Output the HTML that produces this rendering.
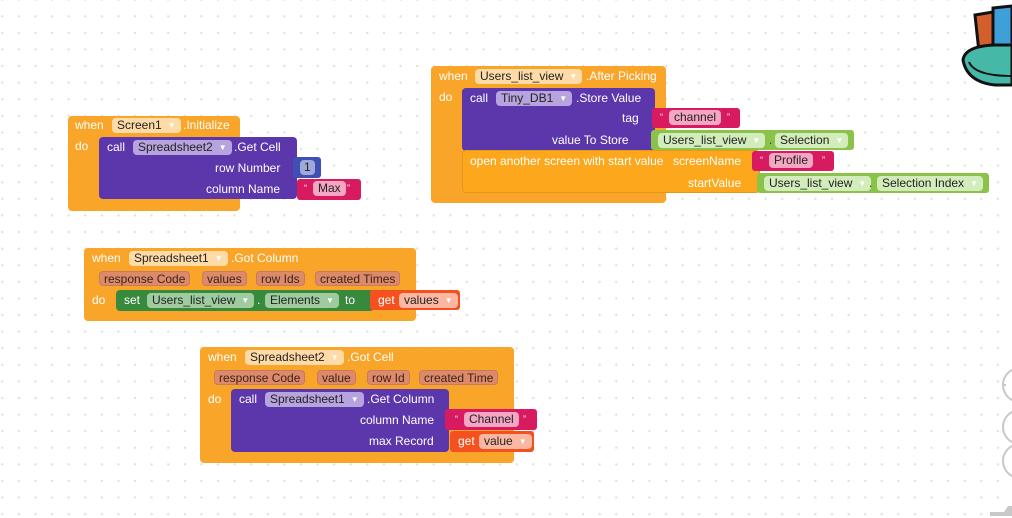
<!DOCTYPE html>
<html><head><meta charset="utf-8"><style>
*{margin:0;padding:0;box-sizing:border-box}
body{width:1012px;height:518px;overflow:hidden;position:relative;background:#fff;
font-family:"Liberation Sans",Arial,sans-serif;font-size:12px;color:#fff;
background-image:radial-gradient(circle,#e0e0e0 1px,transparent 1.4px);
background-size:16.6px 16.6px;background-position:-6px 8px}
.b{position:absolute}
.o{background:#f9a52a;border-radius:4px}
.p{background:#5b37ab;border-radius:4px}
.pk{background:#d81b60;border-radius:3px}
.g{background:#8bc34a;border-radius:3px}
.dg{background:#378a3c;border-radius:4px}
.r{background:#f4511e;border-radius:3px}
.t{position:absolute;white-space:nowrap;line-height:14px}
.dd{position:absolute;white-space:nowrap;line-height:14px;border-radius:4px;padding:0 5px;height:15px;color:#222}
.dd i{font-style:normal;font-size:8px;color:#fff;margin-left:6px;vertical-align:1px}
.fo{background:#ffdba8}
.fp{background:#b7a3dd}
.fg{background:#d3ecbb}
.fd{background:#9fcc9f}
.fr{background:#fbb7a2}
.fpk{background:#f4a6c2}
.ch{position:absolute;white-space:nowrap;line-height:14px;border-radius:4px;padding:0 4px;height:15px;background:#dc8a6a;color:#3b2418;border:1px solid #c97a5c}
</style></head><body>

<!-- Block 1 -->
<div class="b o" style="left:68px;top:116px;width:172px;height:95px"></div>
<div class="t" style="left:75px;top:118px">when</div>
<div class="dd fo" style="left:112px;top:118px">Screen1<i>▼</i></div>
<div class="t" style="left:183px;top:118px">.Initialize</div>
<div class="t" style="left:75px;top:139px">do</div>
<div class="b p" style="left:99px;top:137px;width:198px;height:62px"></div>
<div class="t" style="left:107px;top:140px">call</div>
<div class="dd fp" style="left:133px;top:140px">Spreadsheet2<i>▼</i></div>
<div class="t" style="left:234px;top:140px">.Get Cell</div>
<div class="t" style="left:215px;top:161px">row Number</div>
<div class="t" style="left:206px;top:182px">column Name</div>
<div class="b" style="left:293px;top:157px;width:28px;height:21px;background:#3f4fb3;border-radius:3px"></div>
<div class="dd" style="left:300px;top:160px;background:#9fa8da;padding:0 4px">1</div>
<div class="b pk" style="left:297px;top:179px;width:64px;height:21px"></div>
<div class="t" style="left:304px;top:181px;font-size:9px">“</div>
<div class="dd fpk" style="left:313px;top:181px">Max</div>
<div class="t" style="left:347px;top:181px;font-size:9px">”</div>

<!-- Block 2 -->
<div class="b o" style="left:431px;top:66px;width:235px;height:137px"></div>
<div class="t" style="left:439px;top:69px">when</div>
<div class="dd fo" style="left:475px;top:69px">Users_list_view<i>▼</i></div>
<div class="t" style="left:586px;top:69px">.After Picking</div>
<div class="t" style="left:439px;top:90px">do</div>
<div class="b p" style="left:462px;top:88px;width:193px;height:63px"></div>
<div class="t" style="left:470px;top:91px">call</div>
<div class="dd fp" style="left:496px;top:91px">Tiny_DB1<i>▼</i></div>
<div class="t" style="left:576px;top:91px">.Store Value</div>
<div class="t" style="left:622px;top:111px">tag</div>
<div class="t" style="left:552px;top:133px">value To Store</div>
<div class="b pk" style="left:652px;top:108px;width:88px;height:20px"></div>
<div class="t" style="left:660px;top:110px;font-size:9px">“</div>
<div class="dd fpk" style="left:669px;top:110px">channel</div>
<div class="t" style="left:727px;top:110px;font-size:9px">”</div>
<div class="b g" style="left:651px;top:130px;width:203px;height:20px"></div>
<div class="dd fg" style="left:658px;top:133px">Users_list_view<i>▼</i></div>
<div class="t" style="left:769px;top:133px;color:#333">.</div>
<div class="dd fg" style="left:775px;top:133px">Selection<i>▼</i></div>
<div class="b o" style="left:462px;top:150px;width:298px;height:43px;background:#fda81c;border:1px solid #e8961a"></div>
<div class="t" style="left:470px;top:154px">open another screen with start value</div>
<div class="t" style="left:673px;top:154px">screenName</div>
<div class="t" style="left:688px;top:176px">startValue</div>
<div class="b pk" style="left:752px;top:151px;width:82px;height:20px"></div>
<div class="t" style="left:760px;top:153px;font-size:9px">“</div>
<div class="dd fpk" style="left:769px;top:153px">Profile</div>
<div class="t" style="left:822px;top:153px;font-size:9px">”</div>
<div class="b g" style="left:757px;top:173px;width:232px;height:20px"></div>
<div class="dd fg" style="left:764px;top:176px">Users_list_view<i>▼</i></div>
<div class="t" style="left:869px;top:176px;color:#333">.</div>
<div class="dd fg" style="left:877px;top:176px">Selection Index<i>▼</i></div>

<!-- Block 3 -->
<div class="b o" style="left:84px;top:248px;width:332px;height:73px"></div>
<div class="t" style="left:92px;top:251px">when</div>
<div class="dd fo" style="left:129px;top:251px">Spreadsheet1<i>▼</i></div>
<div class="t" style="left:231px;top:251px">.Got Column</div>
<div class="ch" style="left:99px;top:271px">response Code</div>
<div class="ch" style="left:202px;top:271px">values</div>
<div class="ch" style="left:256px;top:271px">row Ids</div>
<div class="ch" style="left:315px;top:271px">created Times</div>
<div class="t" style="left:92px;top:293px">do</div>
<div class="b dg" style="left:116px;top:290px;width:258px;height:21px"></div>
<div class="t" style="left:124px;top:293px">set</div>
<div class="dd fd" style="left:147px;top:293px">Users_list_view<i>▼</i></div>
<div class="t" style="left:257px;top:293px">.</div>
<div class="dd fd" style="left:265px;top:293px">Elements<i>▼</i></div>
<div class="t" style="left:345px;top:293px">to</div>
<div class="b r" style="left:370px;top:290px;width:90px;height:20px"></div>
<div class="t" style="left:378px;top:293px">get</div>
<div class="dd fr" style="left:399px;top:293px">values<i>▼</i></div>

<!-- Block 4 -->
<div class="b o" style="left:200px;top:347px;width:314px;height:116px"></div>
<div class="t" style="left:208px;top:350px">when</div>
<div class="dd fo" style="left:245px;top:350px">Spreadsheet2<i>▼</i></div>
<div class="t" style="left:347px;top:350px">.Got Cell</div>
<div class="ch" style="left:214px;top:370px">response Code</div>
<div class="ch" style="left:317px;top:370px">value</div>
<div class="ch" style="left:367px;top:370px">row Id</div>
<div class="ch" style="left:419px;top:370px">created Time</div>
<div class="t" style="left:208px;top:392px">do</div>
<div class="b p" style="left:231px;top:389px;width:218px;height:63px"></div>
<div class="t" style="left:239px;top:392px">call</div>
<div class="dd fp" style="left:265px;top:392px">Spreadsheet1<i>▼</i></div>
<div class="t" style="left:367px;top:392px">.Get Column</div>
<div class="t" style="left:360px;top:413px">column Name</div>
<div class="t" style="left:369px;top:434px">max Record</div>
<div class="b pk" style="left:445px;top:409px;width:92px;height:21px"></div>
<div class="t" style="left:455px;top:412px;font-size:9px">“</div>
<div class="dd fpk" style="left:464px;top:412px">Channel</div>
<div class="t" style="left:523px;top:412px;font-size:9px">”</div>
<div class="b r" style="left:450px;top:431px;width:84px;height:21px"></div>
<div class="t" style="left:458px;top:434px">get</div>
<div class="dd fr" style="left:479px;top:434px">value<i>▼</i></div>

<!-- top-right icon -->
<svg class="b" style="left:955px;top:0" width="57" height="100" viewBox="0 0 57 100">
<path d="M20 15 L38 12 L38 50 L24 52 Z" fill="#d35f2d" stroke="#111" stroke-width="3"/>
<path d="M38 8 L57 6 L57 50 L38 50 Z" fill="#3f9fd8" stroke="#111" stroke-width="3"/>
<path d="M8 60 Q10 46 40 45 L57 45 L57 85 L40 85 Q12 82 8 60 Z" fill="#45b8a8" stroke="#111" stroke-width="3"/>
<path d="M14 62 Q20 76 57 76" fill="none" stroke="#111" stroke-width="2"/>
</svg>
<!-- right controls -->
<svg class="b" style="left:990px;top:360px" width="22" height="158">
<g fill="none" stroke="#c8c8c8" stroke-width="2">
<circle cx="30" cy="25" r="17"/><circle cx="30" cy="67" r="17"/><circle cx="30" cy="101" r="17"/>
</g>
<line x1="12" y1="25" x2="16" y2="25" stroke="#c8c8c8" stroke-width="2"/>
<path d="M0 152 L14 152 L18 146 L22 146 L22 156 L0 156 Z" fill="#c8c8c8"/>
</svg>
</body></html>
